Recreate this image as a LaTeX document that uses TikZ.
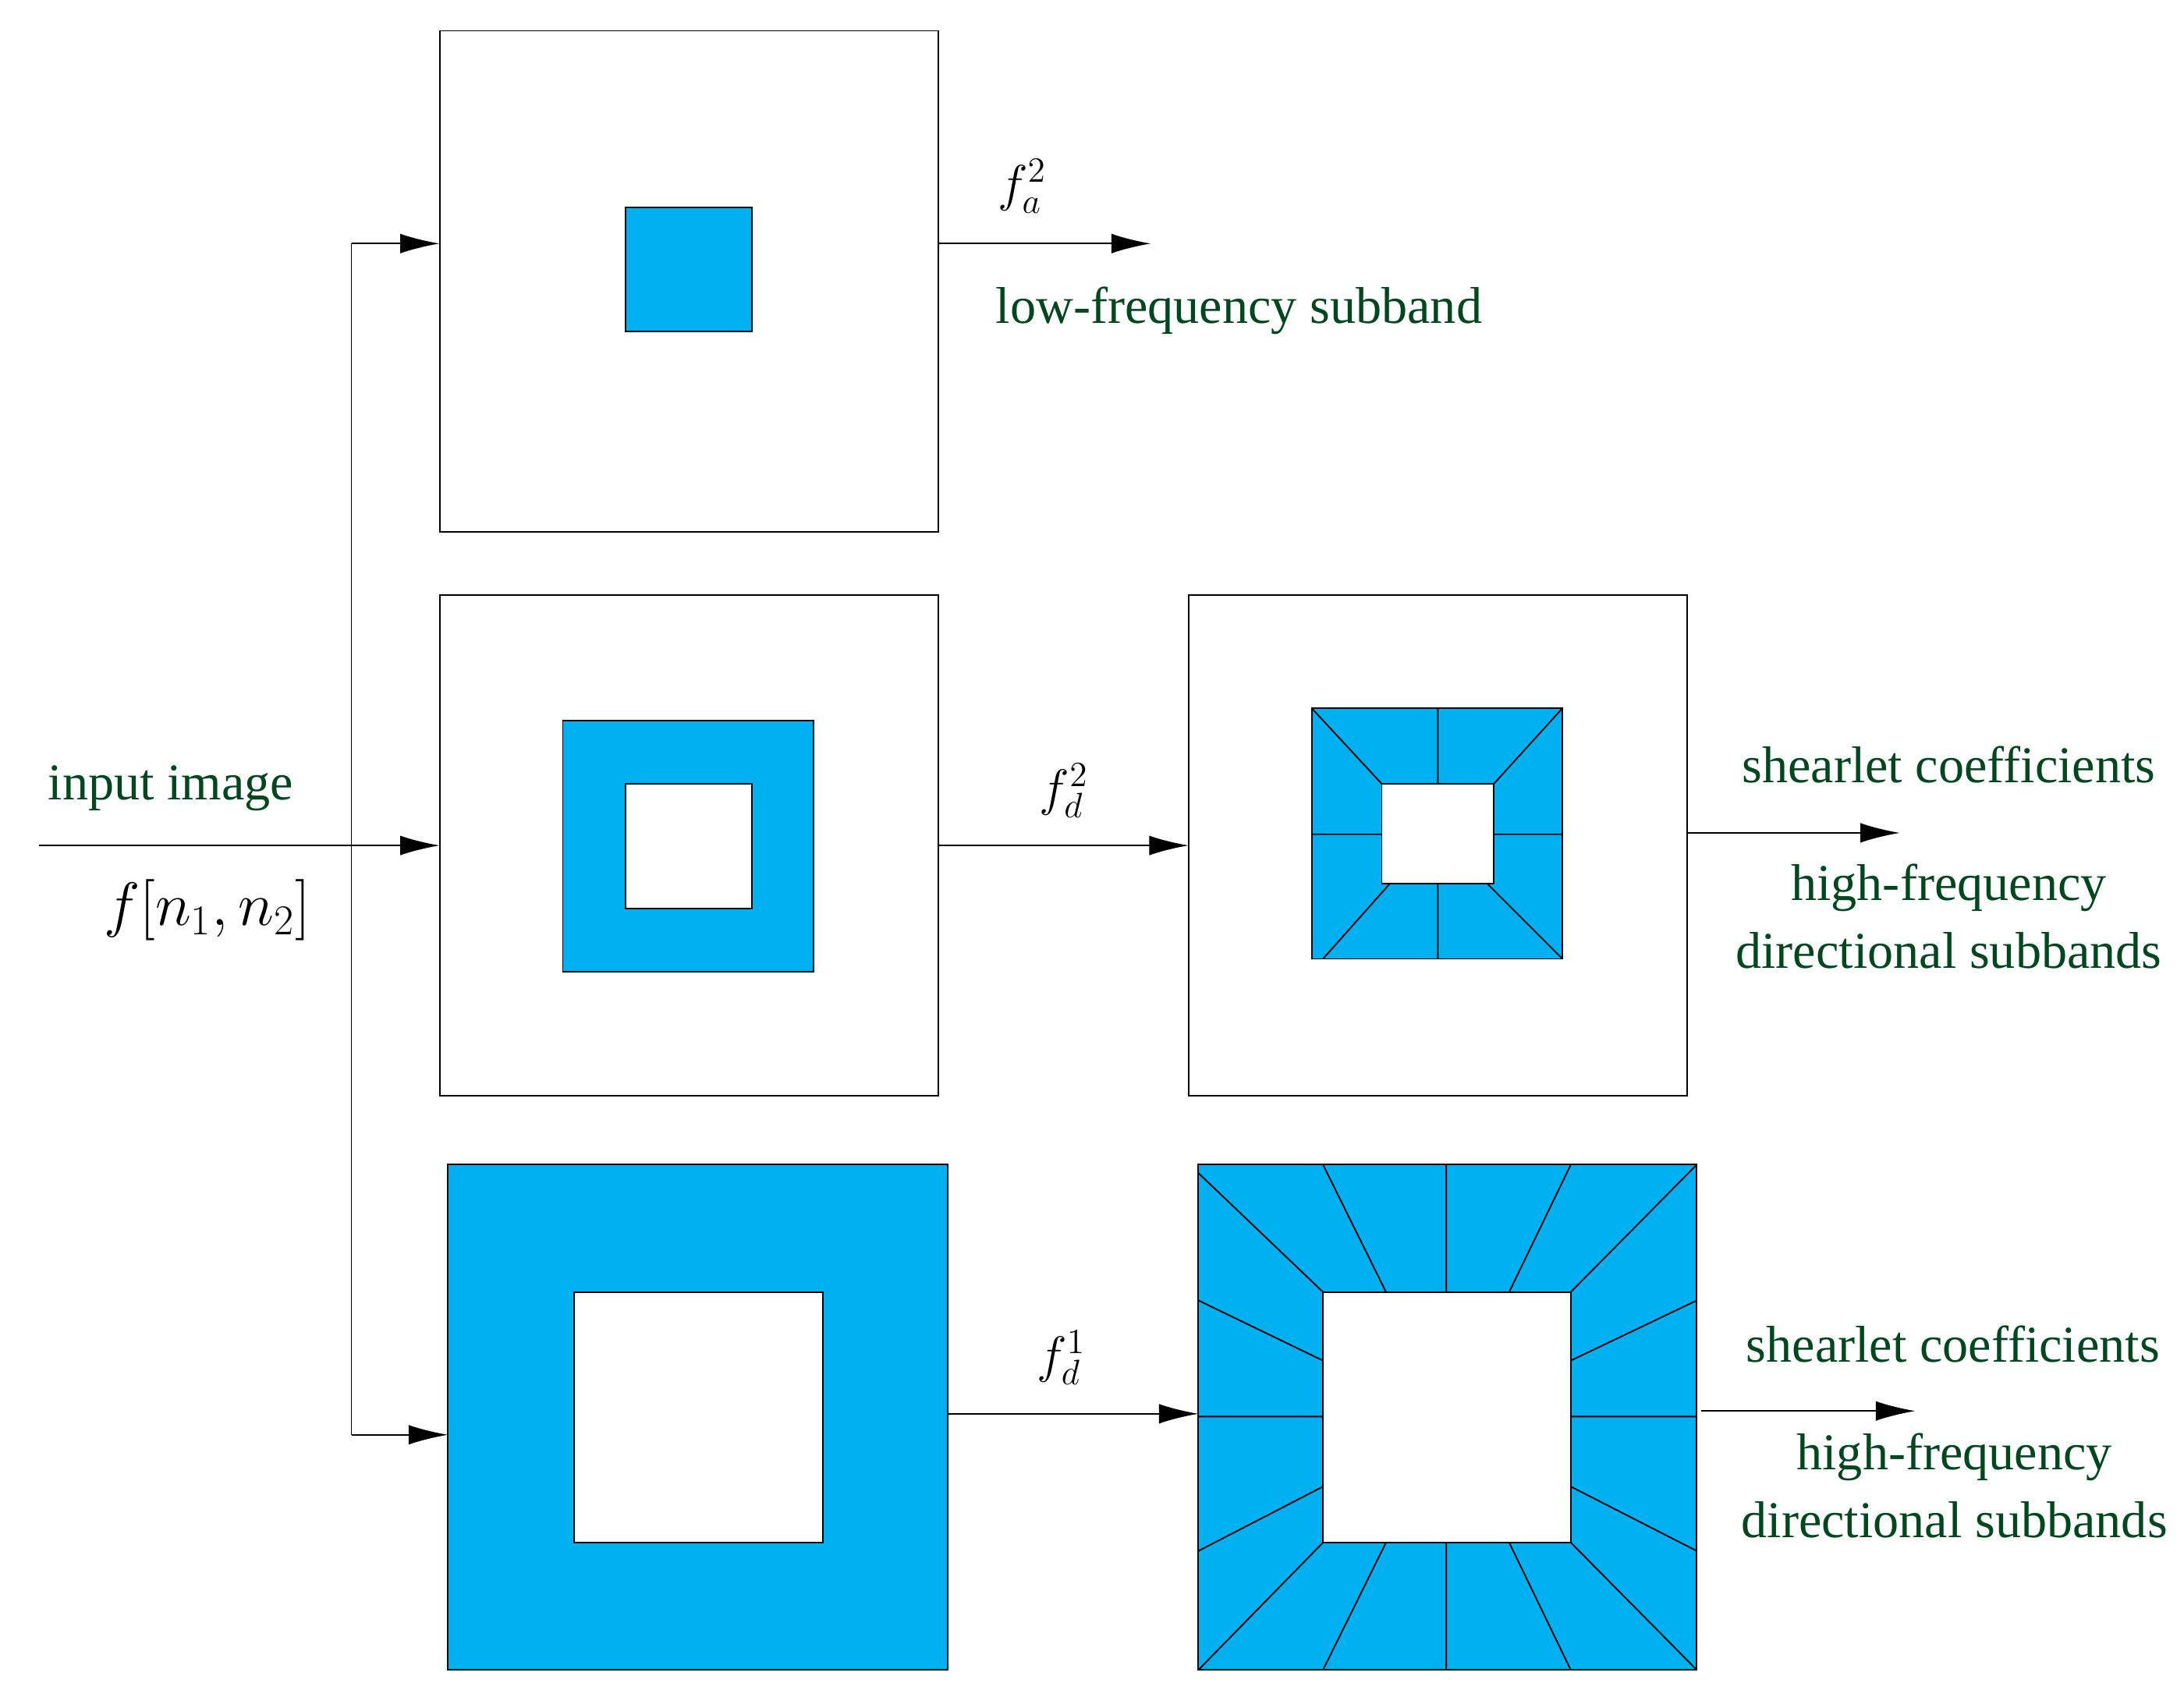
\documentclass[tikz,border=0pt]{standalone}
\usepackage{fontspec}
\setmainfont{Liberation Serif}
\usetikzlibrary{arrows.meta}
\definecolor{sb}{RGB}{0,176,240}
\definecolor{tg}{RGB}{0,70,30}
\begin{document}
\begin{tikzpicture}[x=0.02cm,y=-0.02cm,
  box/.style={draw=black,line width=0.6pt},
  bl/.style={fill=sb,draw=black,line width=0.6pt},
  ln/.style={line width=0.6pt},
  ar/.style={line width=0.6pt,-{Latex[length=16pt,width=8pt]}},
  lab/.style={text=tg,font=\fontsize{21}{24}\selectfont},
  mth/.style={font=\fontsize{22}{24}\selectfont}]
\useasboundingbox (0,0) rectangle (1560,1207);
% top
\draw[box] (314,22) rectangle (670,380);
\draw[bl] (447,148) rectangle (537,237);
% middle left
\draw[box] (314,425) rectangle (670,783);
\draw[bl] (402,515) rectangle (581,694);
\draw[box,fill=white] (447,560) rectangle (537,649);
% middle right
\draw[box] (849,425) rectangle (1205,783);
\draw[bl] (937,506) rectangle (1116,685);
\draw[box,fill=white] (987,560) rectangle (1067,631);
\draw[ln] (1027,506)--(1027,560) (1027,631)--(1027,685) (937,596)--(987,596) (1067,596)--(1116,596)
 (937,506)--(987,560) (1116,506)--(1067,560) (945,685)--(993,631) (1116,685)--(1062,631);
% bottom left
\draw[bl] (320,832) rectangle (677,1193);
\draw[box,fill=white] (410,923) rectangle (588,1102);
% bottom right
\draw[bl] (856,832) rectangle (1212,1193);
\draw[box,fill=white] (945,923) rectangle (1122,1102);
\draw[ln] (945,832)--(990,923) (1033,832)--(1033,923) (1122,832)--(1078,923)
 (856,838)--(945,923) (1212,832)--(1122,923)
 (856,929)--(945,972) (856,1012)--(945,1012) (856,1108)--(945,1062)
 (1212,929)--(1122,972) (1212,1012)--(1122,1012) (1212,1108)--(1122,1062)
 (945,1193)--(990,1102) (1033,1193)--(1033,1102) (1122,1193)--(1078,1102)
 (856,1193)--(945,1102) (1212,1193)--(1122,1102);
% connectors
\coordinate (in) at (28,604);
\coordinate (t) at (251,174);
\coordinate (b) at (251,1025);
\draw[ar] (in)--(314,604);
\draw[ln] (t)--(b);
\draw[ar] (t)--(314,174);
\draw[ar] (b)--(320,1025);
\draw[ar] (670,174)--(822,174);
\draw[ar] (670,604)--(849,604);
\draw[ar] (1205,595)--(1357,595);
\draw[ar] (677,1010)--(856,1010);
\draw[ar] (1215,1008)--(1368,1008);
% labels
\node[mth] (la) at (730,133) {$f_a^2$};
\node[lab] (lf) at (885,222) {low-frequency subband};
\node[lab] (ii) at (122,563) {input image};
\node[mth,font=\fontsize{26}{28}\selectfont] (fn) at (148,650) {$f[n_1,n_2]$};
\node[mth] (ld2) at (760,565) {$f_d^2$};
\node[lab] (s1) at (1392,546) {shearlet coefficients};
\node[lab] (h1) at (1392,634) {high-frequency};
\node[lab] (d1) at (1392,679) {directional subbands};
\node[mth] (ld1) at (758,970) {$f_d^1$};
\node[lab] (s2) at (1395,960) {shearlet coefficients};
\node[lab] (h2) at (1396,1041) {high-frequency};
\node[lab] (d2) at (1396,1086) {directional subbands};
\end{tikzpicture}
\end{document}
